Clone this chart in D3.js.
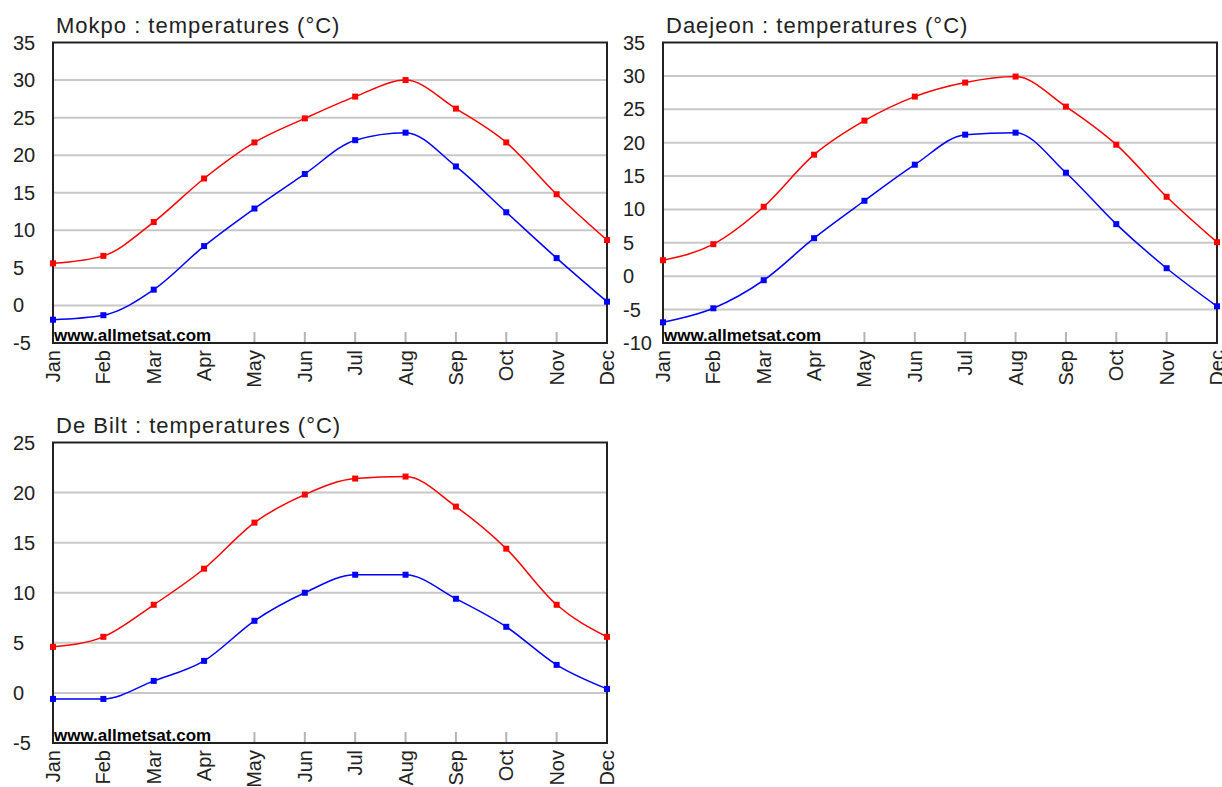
<!DOCTYPE html>
<html>
<head>
<meta charset="utf-8">
<script src="https://cdn.jsdelivr.net/npm/d3@7.9.0/dist/d3.min.js"></script>
<style>
  body { margin: 0; background: #fff; }
  svg { display: block; font-family: "Liberation Sans", Arial, sans-serif; }
</style>
</head>
<body>
<svg id="chart" width="1222" height="787"></svg>
<script>
const months = ['Jan', 'Feb', 'Mar', 'Apr', 'May', 'Jun', 'Jul', 'Aug', 'Sep', 'Oct', 'Nov', 'Dec'];

// Mokpo
const mokpoMax = [5.6, 6.6, 11.1, 16.9, 21.7, 24.9, 27.8, 30.0, 26.2, 21.7, 14.8, 8.7];
const mokpoMin = [-1.9, -1.3, 2.1, 7.9, 12.9, 17.5, 22.0, 23.0, 18.5, 12.4, 6.3, 0.5];
const mokpoRange = [-5, 35];

// Daejeon
const daejeonMax = [2.4, 4.8, 10.4, 18.2, 23.3, 26.9, 29.0, 29.9, 25.4, 19.7, 11.9, 5.1];
const daejeonMin = [-6.9, -4.8, -0.6, 5.7, 11.3, 16.7, 21.2, 21.5, 15.5, 7.8, 1.2, -4.5];
const daejeonRange = [-10, 35];

// De Bilt
const deBiltMax = [4.6, 5.6, 8.8, 12.4, 17.0, 19.8, 21.4, 21.6, 18.6, 14.4, 8.8, 5.6];
const deBiltMin = [-0.6, -0.6, 1.2, 3.2, 7.2, 10.0, 11.8, 11.8, 9.4, 6.6, 2.8, 0.4];
const deBiltRange = [-5, 25];

const panels = [
  { title: 'Mokpo : temperatures (°C)', max: mokpoMax, min: mokpoMin, range: mokpoRange, dx: 0, dy: 0 },
  { title: 'Daejeon : temperatures (°C)', max: daejeonMax, min: daejeonMin, range: daejeonRange, dx: 610, dy: 0 },
  { title: 'De Bilt : temperatures (°C)', max: deBiltMax, min: deBiltMin, range: deBiltRange, dx: 0, dy: 400 }
];

const svg = d3.select('#chart');
svg.append('rect').attr('width', 1222).attr('height', 787).attr('fill', '#fff');

const plotLeft = 53, plotRight = 607, plotTop = 42.5, plotBottom = 343;

function drawPanel(p) {
  const g = svg.append('g').attr('transform', `translate(${p.dx},${p.dy})`);
  const x = d3.scalePoint().domain(months).range([plotLeft, plotRight]);
  const y = d3.scaleLinear().domain(p.range).range([plotBottom, plotTop]);
  const ticks = d3.range(p.range[0], p.range[1] + 1, 5);

  // horizontal grid
  g.selectAll('.grid')
    .data(ticks.slice(1, -1))
    .join('line')
    .attr('x1', plotLeft).attr('x2', plotRight)
    .attr('y1', d => y(d)).attr('y2', d => y(d))
    .attr('stroke', '#c8c8c8').attr('stroke-width', 2);

  // small month ticks at the bottom
  g.selectAll('.mtick')
    .data(months)
    .join('line')
    .attr('x1', d => x(d)).attr('x2', d => x(d))
    .attr('y1', plotBottom).attr('y2', plotBottom - 11)
    .attr('stroke', '#b4b4b4').attr('stroke-width', 2);

  // watermark
  g.append('rect')
    .attr('x', plotLeft + 1).attr('y', plotBottom - 15)
    .attr('width', 160).attr('height', 14)
    .attr('fill', '#fff');
  g.append('text')
    .attr('x', plotLeft + 1).attr('y', plotBottom - 2)
    .attr('font-size', 17).attr('font-weight', 'bold')
    .attr('fill', '#000')
    .text('www.allmetsat.com');

  // frame
  g.append('rect')
    .attr('x', plotLeft).attr('y', plotTop)
    .attr('width', plotRight - plotLeft).attr('height', plotBottom - plotTop)
    .attr('fill', 'none').attr('stroke', '#222').attr('stroke-width', 2);

  // series
  const line = d3.line()
    .x((d, i) => x(months[i]))
    .y(d => y(d))
    .curve(d3.curveMonotoneX);

  [[p.max, '#ff0000'], [p.min, '#0000ff']].forEach(([vals, color]) => {
    g.append('path')
      .attr('d', line(vals))
      .attr('fill', 'none')
      .attr('stroke', color)
      .attr('stroke-width', 1.5);
    g.selectAll(null)
      .data(vals)
      .join('rect')
      .attr('x', (d, i) => x(months[i]) - 3)
      .attr('y', d => y(d) - 3)
      .attr('width', 6).attr('height', 6)
      .attr('fill', color);
  });

  // y labels
  g.selectAll('.ylab')
    .data(ticks)
    .join('text')
    .attr('x', 13)
    .attr('y', d => y(d) + 7)
    .attr('font-size', 20)
    .attr('fill', '#222')
    .text(d => d);

  // month labels
  g.selectAll('.xlab')
    .data(months)
    .join('text')
    .attr('transform', d => `translate(${x(d) + 7},${plotBottom + 7}) rotate(-90)`)
    .attr('text-anchor', 'end')
    .attr('font-size', 20)
    .attr('fill', '#222')
    .text(d => d);

  // title
  g.append('text')
    .attr('x', 56).attr('y', 33)
    .attr('font-size', 22)
    .attr('letter-spacing', 1)
    .attr('fill', '#222')
    .text(p.title);
}

panels.forEach(drawPanel);
</script>
</body>
</html>
